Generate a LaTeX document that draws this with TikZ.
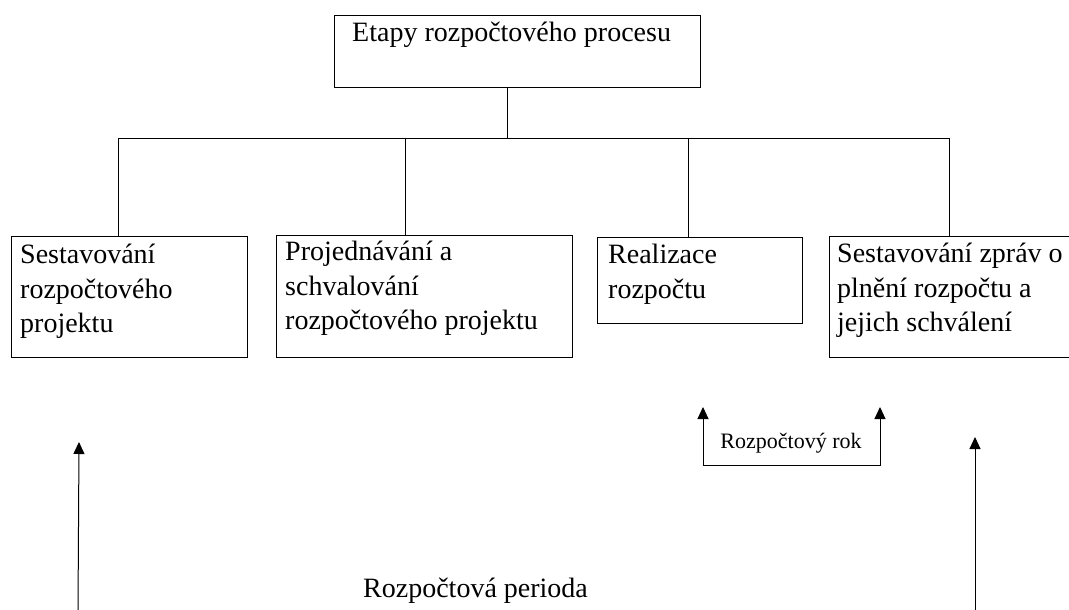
\documentclass[tikz,border=0pt]{standalone}
\usepackage{fontspec}
\setmainfont{Liberation Serif}
\usetikzlibrary{arrows.meta}

\tikzset{
  stagebox/.style={draw,line width=1pt,anchor=north west,inner sep=0pt},
  stagetext/.style={anchor=north west,inner sep=0pt,align=left,font=\fontsize{28}{34.5}\selectfont},
  conn/.style={line width=1pt},
  uparrow/.style={line width=1pt,-{Triangle[width=11pt,length=12pt]}},
  twoarrow/.style={line width=1pt,{Triangle[width=11pt,length=12pt]}-{Triangle[width=11pt,length=12pt]}}
}

\begin{document}
\begin{tikzpicture}[x=1pt,y=-1pt]
\useasboundingbox (0,0) rectangle (1069,610);
% boxes
\node[stagebox,minimum width=366pt,minimum height=72pt] (etapy) at (334,15) {};
\node[stagebox,minimum width=236pt,minimum height=121pt] (sestav) at (11,236) {};
\node[stagebox,minimum width=296pt,minimum height=122pt] (projed) at (276,235) {};
\node[stagebox,minimum width=205pt,minimum height=86pt] (realiz) at (597,237) {};
\node[stagebox,minimum width=260pt,minimum height=121pt] (zpravy) at (829,236) {};
% texts
\node[anchor=base west,inner sep=0pt,font=\fontsize{28}{34.5}\selectfont] (etapyT) at (352,42) {Etapy rozpočtového procesu};
\node[stagetext] (sestavT) at ([shift={(9,8)}]sestav.north west) {Sestavování\\rozpočtového\\projektu};
\node[stagetext] (projedT) at ([shift={(9,6)}]projed.north west) {Projednávání a\\schvalování\\rozpočtového projektu};
\node[stagetext] (realizT) at ([shift={(11,7)}]realiz.north west) {Realizace\\rozpočtu};
\node[stagetext] (zpravyT) at ([shift={(8,7)}]zpravy.north west) {Sestavování zpráv o\\plnění rozpočtu a\\jejich schválení};
% tree lines
\coordinate (trunk) at (507,138);
\coordinate (busL) at (118,138);
\coordinate (busB) at (405,138);
\coordinate (busC) at (688,138);
\coordinate (busR) at (949,138);
\draw[conn] (etapy.south -| trunk) -- (trunk);
\draw[conn] (busL) -- (busR);
\draw[conn] (busL) -- (busL |- sestav.north);
\draw[conn] (busB) -- (busB |- projed.north);
\draw[conn] (busC) -- (busC |- realiz.north);
\draw[conn] (busR) -- (busR |- zpravy.north);
% budget year
\coordinate (rokL) at (703,465);
\coordinate (rokR) at (880,465);
\coordinate (rokLtip) at (703,407);
\coordinate (rokRtip) at (880,407);
\draw[twoarrow] (rokLtip) -- (rokL) -- (rokR) -- (rokRtip);
\node[anchor=base,inner sep=0pt,font=\fontsize{22}{26}\selectfont] (rok) at (791,448) {Rozpočtový rok};
% budget period
\coordinate (perL) at (78,612);
\coordinate (perLtip) at (79,442);
\coordinate (perR) at (975,612);
\coordinate (perRtip) at (975,437);
\draw[uparrow] (perL) -- (perLtip);
\draw[uparrow] (perR) -- (perRtip);
\node[anchor=base west,inner sep=0pt,font=\fontsize{28}{34.5}\selectfont] (perioda) at (363,597) {Rozpočtová perioda};
\end{tikzpicture}
\end{document}
